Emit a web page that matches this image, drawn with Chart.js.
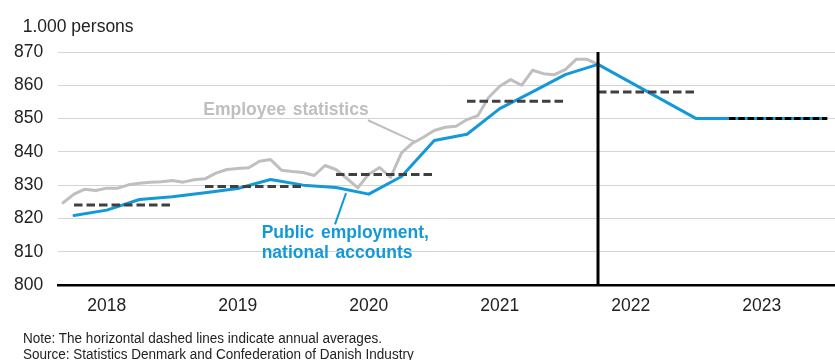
<!DOCTYPE html>
<html>
<head>
<meta charset="utf-8">
<script src="https://cdn.jsdelivr.net/npm/chart.js@4.4.1/dist/chart.umd.min.js"></script>
<style>
  html, body { margin: 0; padding: 0; background: #fff; }
  #wrap { position: relative; width: 835px; height: 360px; overflow: hidden;
          font-family: "Liberation Sans", Arial, sans-serif; color: #222; }
  canvas { position: absolute; left: 0; top: 0; }
  .unit { position: absolute; left: 22.7px; top: 15.6px; font-size: 17.5px; line-height: 20px; white-space: nowrap; }
  .notes { position: absolute; left: 22.7px; top: 330px; font-size: 15.5px; line-height: 16px; white-space: nowrap;
           transform: scaleX(0.872); transform-origin: 0 0; }
</style>
</head>
<body>
<div id="wrap">
  <canvas id="c" width="835" height="360"></canvas>
  <div class="unit">1.000 persons</div>
  <div class="notes">Note: The horizontal dashed lines indicate annual averages.<br>Source: Statistics Denmark and Confederation of Danish Industry</div>
</div>
<script>
// Monthly employee statistics (1.000 persons)
const employeeMonths = [
  '2018-02','2018-03','2018-04','2018-05','2018-06','2018-07','2018-08','2018-09','2018-10','2018-11','2018-12',
  '2019-01','2019-02','2019-03','2019-04','2019-05','2019-06','2019-07','2019-08','2019-09','2019-10','2019-11','2019-12',
  '2020-01','2020-02','2020-03','2020-04','2020-05','2020-06','2020-07','2020-08','2020-09','2020-10','2020-11','2020-12',
  '2021-01','2021-02','2021-03','2021-04','2021-05','2021-06','2021-07','2021-08','2021-09','2021-10','2021-11','2021-12',
  '2022-01','2022-02','2022-03'
];
const employeeValues = [
  824.7, 827.3, 828.8, 828.4, 829.1, 829.1, 830.1, 830.6, 830.9, 831.0, 831.4,
  830.9, 831.6, 831.9, 833.6, 834.7, 835.0, 835.2, 837.2, 837.7, 834.5, 834.1, 833.8,
  832.9, 835.9, 834.7, 832.0, 829.2, 833.3, 835.3, 832.3, 839.7, 842.6, 844.4, 846.4,
  847.4, 847.7, 849.7, 850.9, 856.4, 859.7, 861.7, 860.0, 864.5, 863.5, 863.2, 864.7,
  867.8, 867.8, 866.3
];

// Quarterly public employment, national accounts
const accountsQuarters = [
  '2018Q1','2018Q2','2018Q3','2018Q4','2019Q1','2019Q2','2019Q3','2019Q4',
  '2020Q1','2020Q2','2020Q3','2020Q4','2021Q1','2021Q2','2021Q3','2021Q4','2022Q1'
];
const accountsValues = [
  820.9, 822.5, 825.7, 826.5, 827.7, 829.0, 831.7, 830.0,
  829.3, 827.3, 832.6, 843.4, 845.3, 853.0, 858.0, 863.2, 866.3
];

// Projection after the last observed quarter
const projectionQuarters = ['2022Q1', '2022Q4', '2023Q4'];
const projectionValues = [866.3, 850.0, 850.0];

// Annual averages (dashed lines)
const averageYears = [2018, 2019, 2020, 2021, 2022, 2023];
const averageValues = [824.0, 829.6, 833.2, 855.2, 858.0, 850.0];

// Axis labels
const yearLabels = ['2018', '2019', '2020', '2021', '2022', '2023'];
const boundaryQuarter = '2022Q1';

// ---- positions on a month axis (Jan 2018 = 1) ----
const monthPos = s => (parseInt(s.slice(0, 4), 10) - 2018) * 12 + parseInt(s.slice(5, 7), 10);
const quarterPos = s => (parseInt(s.slice(0, 4), 10) - 2018) * 12 + 3 * parseInt(s.slice(5), 10);
const yearMid = y => (parseInt(y, 10) - 2018) * 12 + 6;

const GRAY = '#bfbfbf';
const BLUE = '#1499d8';
const DARK = '#404040';
const FONT = '"Liberation Sans", Arial, sans-serif';

const employeeData = employeeMonths.map((m, i) => ({ x: monthPos(m), y: employeeValues[i] }));
const accountsData = accountsQuarters.map((q, i) => ({ x: quarterPos(q), y: accountsValues[i] }));
const projectionData = projectionQuarters.map((q, i) => ({ x: quarterPos(q), y: projectionValues[i] }));

const averageSets = averageYears.map((yr, i) => {
  const last = i === averageYears.length - 1;
  return {
    data: [
      { x: quarterPos(yr + 'Q1'), y: averageValues[i] },
      { x: quarterPos(yr + 'Q4'), y: averageValues[i] }
    ],
    borderColor: last ? '#000' : DARK,
    borderWidth: 3,
    borderDash: last ? [6.5, 2.8] : [8.5, 4],
    borderCapStyle: 'butt',
    pointRadius: 0,
    order: last ? 1 : 2
  };
});

const boundaryX = quarterPos(boundaryQuarter);

const datasets = [
  {
    data: [{ x: boundaryX, y: 800 }, { x: boundaryX, y: 870 }],
    borderColor: '#000', borderWidth: 3, borderCapStyle: 'butt', pointRadius: 0, order: 0
  },
  ...averageSets,
  {
    data: accountsData, borderColor: BLUE, borderWidth: 3, pointRadius: 0,
    borderJoinStyle: 'round', borderCapStyle: 'round', order: 3
  },
  {
    data: projectionData, borderColor: BLUE, borderWidth: 3, pointRadius: 0,
    borderJoinStyle: 'round', borderCapStyle: 'butt', order: 3
  },
  {
    data: employeeData, borderColor: GRAY, borderWidth: 3, pointRadius: 0,
    borderJoinStyle: 'round', borderCapStyle: 'round', order: 4
  }
];

// Series labels with leader lines
const seriesLabels = {
  id: 'seriesLabels',
  afterDatasetsDraw(chart) {
    const { ctx, scales: { x, y } } = chart;
    const P = (m, v) => [x.getPixelForValue(m), y.getPixelForValue(v)];
    const seg = (a, b, color) => {
      ctx.strokeStyle = color;
      ctx.beginPath();
      ctx.moveTo(a[0], a[1]);
      ctx.lineTo(b[0], b[1]);
      ctx.stroke();
    };
    ctx.save();
    ctx.lineWidth = 2;
    ctx.lineCap = 'butt';
    seg(P(29.93, 849.5), P(34.24, 843.0), GRAY);
    seg(P(27.92, 827.6), P(26.91, 818.2), BLUE);

    ctx.font = 'bold 17.5px ' + FONT;
    ctx.textAlign = 'left';
    ctx.textBaseline = 'alphabetic';
    if ('wordSpacing' in ctx) ctx.wordSpacing = '2px';
    ctx.fillStyle = GRAY;
    ctx.fillText('Employee statistics', ...P(14.84, 851.0));
    ctx.fillStyle = BLUE;
    ctx.fillText('Public employment,', ...P(20.19, 814.0));
    ctx.fillText('national accounts', ...P(20.19, 808.0));
    ctx.restore();
  }
};

new Chart(document.getElementById('c'), {
  type: 'line',
  data: { datasets },
  plugins: [seriesLabels],
  options: {
    responsive: false,
    animation: false,
    devicePixelRatio: 1,
    layout: { padding: { left: 0, right: 0, top: 52, bottom: 0 } },
    plugins: { legend: { display: false }, tooltip: { enabled: false } },
    elements: { line: { tension: 0 } },
    scales: {
      x: {
        type: 'linear',
        min: 1.534,
        max: 72.71,
        afterBuildTicks: s => { s.ticks = yearLabels.map(yr => ({ value: yearMid(yr), label: yr })); },
        afterFit: s => { s.height = 75; },
        ticks: {
          autoSkip: false,
          maxRotation: 0,
          padding: 11,
          color: '#222',
          font: { family: FONT, size: 17.5 },
          callback: (v) => yearLabels.find(yr => yearMid(yr) === v)
        },
        grid: { display: false, drawTicks: false },
        border: { display: true, color: '#000', width: 2.5 }
      },
      y: {
        min: 800,
        max: 870,
        afterFit: s => { s.width = 58; },
        ticks: {
          stepSize: 10,
          padding: 14.7,
          color: '#222',
          font: { family: FONT, size: 17.5 }
        },
        grid: {
          drawTicks: false,
          lineWidth: 1,
          color: c => (c.tick && c.tick.value === 800 ? 'rgba(0,0,0,0)' : '#d4d4d4')
        },
        border: { display: false }
      }
    }
  }
});
</script>
</body>
</html>
